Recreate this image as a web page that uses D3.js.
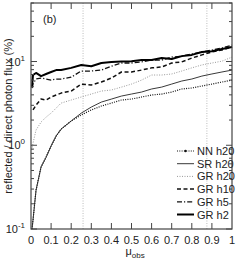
<!DOCTYPE html>
<html>
<head>
    <script src="https://d3js.org/d3.v7.min.js"></script>
    <style>
        body { margin: 0; background: #fff; }
        text { font-family: "Liberation Sans Narrow", "Arial Narrow", "Liberation Sans", sans-serif; fill: #222; }
    </style>
</head>
<body>
    <svg id="chart"></svg>
    <script>
        // values (flux ratio in %)
        const mu = [0.005, 0.01, 0.025, 0.05, 0.075, 0.1, 0.125, 0.15, 0.2, 0.25, 0.3, 0.35, 0.4,
                    0.45, 0.5, 0.55, 0.6, 0.65, 0.7, 0.75, 0.8, 0.85, 0.9, 0.95, 1.0];
        const nnH20 = [0.1, 0.128, 0.29, 0.55, 0.72, 0.98, 1.29, 1.56, 1.95, 2.3, 2.64, 2.94, 3.19,
                       3.47, 3.56, 3.77, 3.98, 4.09, 4.32, 4.7, 4.83, 5.1, 5.38, 5.69, 6.0];
        const srH20 = [0.1, 0.128, 0.29, 0.55, 0.72, 0.98, 1.29, 1.56, 1.95, 2.42, 2.86, 3.28, 3.56,
                       3.87, 4.09, 4.32, 4.7, 4.95, 5.38, 5.85, 6.18, 6.7, 7.1, 7.5, 7.9];
        const grH20 = [0.88, 1.06, 1.52, 1.89, 2.17, 2.42, 2.78, 3.19, 3.47, 3.77, 4.09, 4.44, 4.57,
                       4.95, 5.38, 6.0, 6.9, 6.9, 7.1, 7.7, 8.4, 9.1, 9.6, 10.1, 11.3];
        const grH10 = [null, 2.64, 3.02, 3.56, 3.47, 3.77, 3.98, 4.2, 4.44, 5.38, 5.25, 5.69, 6.35,
                       7.5, 7.5, 7.9, 8.4, 8.6, 9.6, 9.9, 11.0, 12.0, 13.0, 13.7, 14.9];
        const grH5  = [4.83, 5.4, 6.18, 6.35, 6.18, 6.0, 6.18, 6.18, 6.5, 7.7, 7.7, 7.9, 8.8,
                       9.6, 9.6, 9.9, 10.4, 10.4, 11.3, 11.6, 12.3, 13.0, 13.7, 14.5, 15.7];
        const grH2  = [4.95, 6.9, 7.3, 6.7, 7.1, 7.5, 7.9, 7.9, 8.4, 9.1, 8.8, 9.6, 9.9,
                       10.0, 10.1, 10.4, 10.4, 11.0, 10.7, 11.6, 12.0, 13.0, 13.3, 14.1, 14.9];
        const seriesNames = ["NN h20", "SR h20", "GR h20", "GR h10", "GR h5", "GR h2"];
        const xTicks = [0, 0.1, 0.2, 0.3, 0.4, 0.5, 0.6, 0.7, 0.8, 0.9, 1];
        const xTickLabels = ["0", "0.1", "0.2", "0.3", "0.4", "0.5", "0.6", "0.7", "0.8", "0.9", "1"];
        const yDecades = [0.1, 1, 10];
        const yDecadeExp = ["-1", "0", "1"];
        const markerMu = [0.259, 0.875];

        const width = 240, height = 262;
        const mLeft = 31, mRight = 232, mTop = 3, mBottom = 229;

        const svg = d3.select("#chart")
            .attr("width", width)
            .attr("height", height);

        const x = d3.scaleLinear().domain([0, 1]).range([mLeft, mRight]);
        const y = d3.scaleLog().domain([0.1, 50]).range([mBottom, mTop]);

        // line styles per series
        const styles = [
            { stroke: "#111", width: 1.2, dash: "1,1.3" },
            { stroke: "#222", width: 0.9, dash: null },
            { stroke: "#999", width: 1, dash: "1,1.5" },
            { stroke: "#111", width: 1.5, dash: "4,2.5" },
            { stroke: "#111", width: 1.3, dash: "5,2,1.2,2" },
            { stroke: "#000", width: 2, dash: null }
        ];
        const allValues = [nnH20, srH20, grH20, grH10, grH5, grH2];

        // marker lines
        svg.append("g").selectAll("line")
            .data(markerMu)
            .join("line")
                .attr("x1", d => x(d)).attr("x2", d => x(d))
                .attr("y1", mTop).attr("y2", mBottom)
                .attr("stroke", "#aaa")
                .attr("stroke-width", 0.8)
                .attr("stroke-dasharray", "1,1.5");

        const line = d3.line()
            .defined(d => d[1] != null)
            .x(d => x(d[0]))
            .y(d => y(d[1]));

        svg.append("g").selectAll("path")
            .data(allValues)
            .join("path")
                .attr("d", vals => line(mu.map((m, i) => [m, vals[i]])))
                .attr("fill", "none")
                .attr("stroke", (d, i) => styles[i].stroke)
                .attr("stroke-width", (d, i) => styles[i].width)
                .attr("stroke-dasharray", (d, i) => styles[i].dash)
                .attr("stroke-linejoin", "round");

        // frame
        svg.append("rect")
            .attr("x", mLeft).attr("y", mTop)
            .attr("width", mRight - mLeft).attr("height", mBottom - mTop)
            .attr("fill", "none")
            .attr("stroke", "#444")
            .attr("stroke-width", 1.2);

        // x ticks (inward, top and bottom)
        const xt = svg.append("g").attr("stroke", "#444").attr("stroke-width", 1);
        xTicks.slice(1, -1).forEach(t => {
            xt.append("line").attr("x1", x(t)).attr("x2", x(t)).attr("y1", mBottom).attr("y2", mBottom - 6);
            xt.append("line").attr("x1", x(t)).attr("x2", x(t)).attr("y1", mTop).attr("y2", mTop + 6);
        });
        svg.append("g").selectAll("text")
            .data(xTicks)
            .join("text")
                .attr("x", d => x(d))
                .attr("y", 244)
                .attr("text-anchor", "middle")
                .attr("font-size", 11)
                .text((d, i) => xTickLabels[i]);

        // y ticks: decades and minor
        const minor = [];
        yDecades.forEach(dec => { for (let k = 2; k <= 9; k++) if (dec * k <= 50) minor.push(dec * k); });
        const yt = svg.append("g").attr("stroke", "#444").attr("stroke-width", 1);
        yDecades.forEach(v => {
            yt.append("line").attr("x1", mLeft).attr("x2", mLeft + 6).attr("y1", y(v)).attr("y2", y(v));
            yt.append("line").attr("x1", mRight).attr("x2", mRight - 6).attr("y1", y(v)).attr("y2", y(v));
        });
        minor.forEach(v => {
            yt.append("line").attr("x1", mLeft).attr("x2", mLeft + 3).attr("y1", y(v)).attr("y2", y(v));
            yt.append("line").attr("x1", mRight).attr("x2", mRight - 3).attr("y1", y(v)).attr("y2", y(v));
        });
        const yl = svg.append("g").selectAll("text")
            .data(yDecades)
            .join("text")
                .attr("x", 25)
                .attr("y", d => y(d) + 4)
                .attr("text-anchor", "end")
                .attr("font-size", 11);
        yl.append("tspan").text("10");
        yl.append("tspan").attr("dy", -5).attr("font-size", 8).text((d, i) => yDecadeExp[i]);

        // axis titles
        svg.append("text")
            .attr("transform", `translate(12, ${(mTop + mBottom) / 2}) rotate(-90)`)
            .attr("text-anchor", "middle")
            .attr("font-size", 11)
            .text("reflected / direct photon flux (%)");

        const xl = svg.append("text")
            .attr("x", (mLeft + mRight) / 2 - 6)
            .attr("y", 255)
            .attr("font-size", 11);
        xl.append("tspan").text("\u03bc");
        xl.append("tspan").attr("dy", 3).attr("font-size", 8).text("obs");

        svg.append("text")
            .attr("x", 43).attr("y", 23)
            .attr("font-size", 11)
            .text("(b)");

        // legend
        const leg = svg.append("g").selectAll("g")
            .data(seriesNames)
            .join("g")
                .attr("transform", (d, i) => `translate(0, ${155 + i * 12.7})`);
        leg.append("line")
            .attr("x1", 177).attr("x2", 194)
            .attr("y1", -4).attr("y2", -4)
            .attr("stroke", (d, i) => styles[i].stroke)
            .attr("stroke-width", (d, i) => styles[i].width)
            .attr("stroke-dasharray", (d, i) => styles[i].dash);
        leg.filter((d, i) => i === 0).append("circle")
            .attr("cx", 185.5).attr("cy", -4).attr("r", 1.2).attr("fill", "#111");
        leg.append("text")
            .attr("x", 197).attr("y", 0)
            .attr("font-size", 11)
            .text(d => d);
    </script>
</body>
</html>
